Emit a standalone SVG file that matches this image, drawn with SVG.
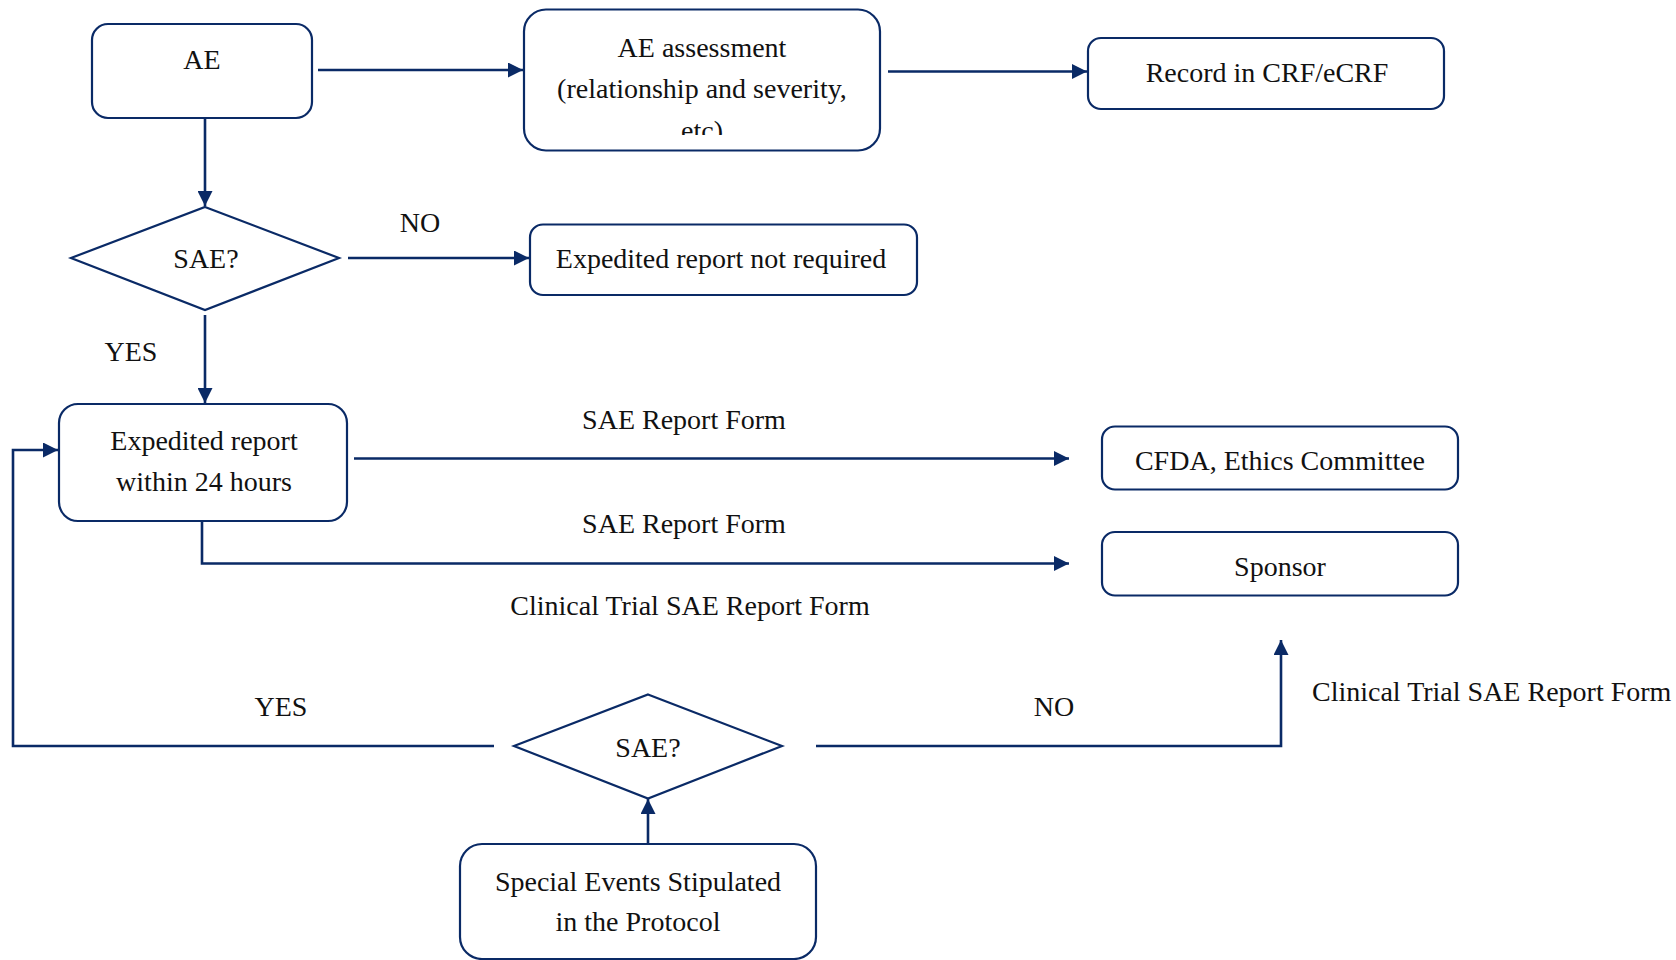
<svg xmlns="http://www.w3.org/2000/svg" width="1676" height="960" viewBox="0 0 1676 960">
<style>
.box{fill:#fff;stroke:#0a2a66;stroke-width:2.2}
.con{fill:none;stroke:#0a2a66;stroke-width:2.6}
.arr{marker-end:url(#ah)}
text{font-family:"Liberation Serif","Times New Roman",serif;font-size:28px;fill:#111;text-anchor:middle}
</style>
<defs>
<marker id="ah" markerUnits="userSpaceOnUse" markerWidth="15" markerHeight="15" refX="15" refY="7.5" orient="auto" viewBox="0 0 15 15">
<path d="M0,0 L15,7.5 L0,15 z" fill="#0a2a66"/>
</marker>
<clipPath id="clipA"><rect x="524" y="9" width="356" height="126"/></clipPath>
</defs>
<rect width="1676" height="960" fill="#fff"/>
<g id="connectors">
<path class="con arr" d="M318,70 H523"/>
<path class="con arr" d="M888,71.5 H1087"/>
<path class="con arr" d="M205,118 V206"/>
<path class="con arr" d="M348,258 H529"/>
<path class="con arr" d="M205,315 V403"/>
<path class="con arr" d="M354,458.5 H1069"/>
<path class="con arr" d="M202,521 V563.5 H1069"/>
<path class="con arr" d="M816,746 H1281 V640"/>
<path class="con arr" d="M494,746 H13 V450 H58"/>
<path class="con arr" d="M648,844 V799"/>
</g>
<g id="ae">
<rect class="box" x="92" y="24" width="220" height="94" rx="16"/>
<text x="202" y="69">AE</text>
</g>
<g id="assessment">
<rect class="box" x="524" y="9.5" width="356" height="141" rx="22"/>
<g clip-path="url(#clipA)">
<text x="702" y="57">AE assessment</text>
<text x="702" y="98">(relationship and severity,</text>
<text x="702" y="140">etc)</text>
</g>
</g>
<g id="record">
<rect class="box" x="1088" y="38" width="356" height="71" rx="13"/>
<text x="1267" y="82">Record in CRF/eCRF</text>
</g>
<g id="sae1">
<polygon class="box" points="205,207 339,258 205,310 71,258"/>
<text x="206" y="268">SAE?</text>
</g>
<g id="notreq">
<rect class="box" x="530" y="224.5" width="387" height="70.5" rx="13"/>
<text x="721" y="268">Expedited report not required</text>
</g>
<g id="expedited">
<rect class="box" x="59" y="404" width="288" height="117" rx="19"/>
<text x="204" y="450">Expedited report</text>
<text x="204" y="491">within 24 hours</text>
</g>
<g id="cfda">
<rect class="box" x="1102" y="426.5" width="356" height="63" rx="13"/>
<text x="1280" y="470">CFDA, Ethics Committee</text>
</g>
<g id="sponsor">
<rect class="box" x="1102" y="532" width="356" height="63.5" rx="13"/>
<text x="1280" y="576">Sponsor</text>
</g>
<g id="sae2">
<polygon class="box" points="648,694.5 782,746 648,798.5 514,746"/>
<text x="648" y="757">SAE?</text>
</g>
<g id="special">
<rect class="box" x="460" y="844" width="356" height="115" rx="22"/>
<text x="638" y="891">Special Events Stipulated</text>
<text x="638" y="931">in the Protocol</text>
</g>
<g id="labels">
<text x="420" y="232">NO</text>
<text x="131" y="361">YES</text>
<text x="684" y="429">SAE Report Form</text>
<text x="684" y="533">SAE Report Form</text>
<text x="690" y="615">Clinical Trial SAE Report Form</text>
<text x="1312" y="701" style="text-anchor:start">Clinical Trial SAE Report Form</text>
<text x="1054" y="716">NO</text>
<text x="281" y="716">YES</text>
</g>
</svg>
